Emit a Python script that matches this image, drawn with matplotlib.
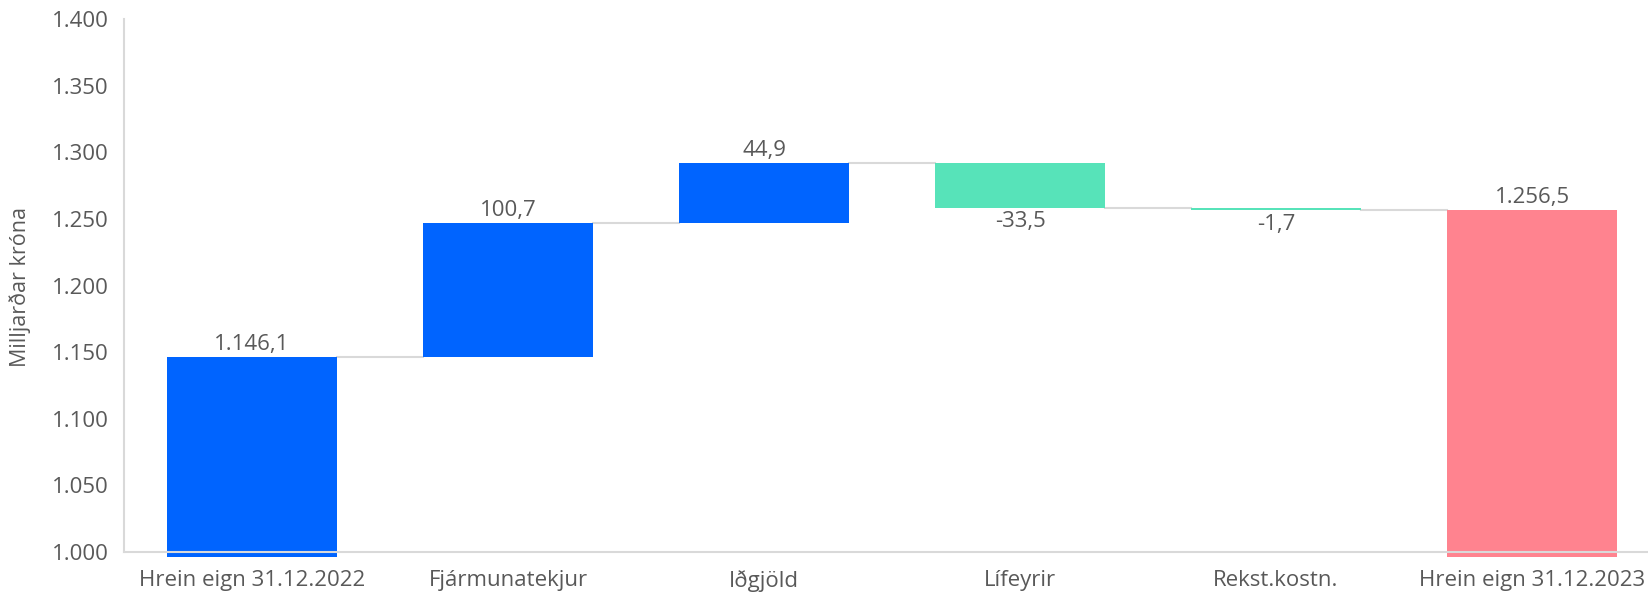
import matplotlib.pyplot as plt
import numpy as np

categories = ['Hrein eign 31.12.2022', 'Fjármunatekjur', 'Iðgjöld',
              'Lífeyrir', 'Rekst.kostn.', 'Hrein eign 31.12.2023']
changes = [1146.1, 100.7, 44.9, -33.5, -1.7]
end_total = 1256.5
yticks = [1000, 1050, 1100, 1150, 1200, 1250, 1300, 1350, 1400]

blue = '#0064FF'
green = '#57E3B9'
pink = '#FF838F'
grey_text = '#595959'
grey_line = '#D9D9D9'

plt.rcParams['font.family'] = ['Open Sans', 'DejaVu Sans']
fs = 16

# running totals -> bar bottoms and heights
tops = np.cumsum(changes)
starts = np.concatenate([[0], tops[:-1]])
bottoms = np.minimum(starts, tops)
heights = np.abs(np.array(changes))
colors = [blue if c > 0 else green for c in changes]

bottoms = list(bottoms) + [0]
heights = list(heights) + [end_total]
colors = colors + [pink]
levels = list(tops) + [end_total]

x = np.arange(len(categories))
width = 0.667

fig = plt.figure(figsize=(16.49, 5.97), dpi=100)
# right edge runs slightly past the figure, as in the original
ax = fig.add_axes([0.0752, 0.0675, 0.9315, 0.9005])

ax.bar(x, heights, bottom=bottoms, width=width, color=colors, zorder=2)

# connector lines between bars
for i in range(len(categories) - 1):
    ax.plot([x[i] + width / 2, x[i + 1] - width / 2], [levels[i], levels[i]],
            color=grey_line, lw=1.5, zorder=1)


def fmt(v, dec=1):
    s = f'{v:,.{dec}f}'
    return s.replace(',', 'X').replace('.', ',').replace('X', '.')


# data labels
labels_val = changes + [end_total]
for i, v in enumerate(labels_val):
    if v > 0:
        ax.text(x[i], bottoms[i] + heights[i] + 2, fmt(v), ha='center',
                va='bottom', fontsize=fs, color=grey_text)
    else:
        ax.text(x[i], bottoms[i] - 2.5, fmt(v), ha='center', va='top',
                fontsize=fs, color=grey_text)

ax.set_xlim(-0.5, len(categories) - 0.5)
ax.set_ylim(996.5, 1400)
ax.spines['bottom'].set_position(('data', 1000))
ax.set_yticks(yticks)
ax.set_yticklabels([fmt(t, 0) for t in yticks])
ax.set_xticks(x)
ax.set_xticklabels(categories)
ax.tick_params(length=0, labelsize=fs, colors=grey_text)
ax.tick_params(axis='x', pad=13)
ax.tick_params(axis='y', pad=11)
for s in ['top', 'right']:
    ax.spines[s].set_visible(False)
for s in ['left', 'bottom']:
    ax.spines[s].set_color(grey_line)
    ax.spines[s].set_linewidth(1.5)
ax.spines['left'].set_bounds(1000, 1400)
fig.text(20 / 1649, 0.52, 'Milljarðar króna', rotation=90, ha='center',
         va='center', fontsize=15.5, color=grey_text)

plt.savefig('out.png', dpi=100)
